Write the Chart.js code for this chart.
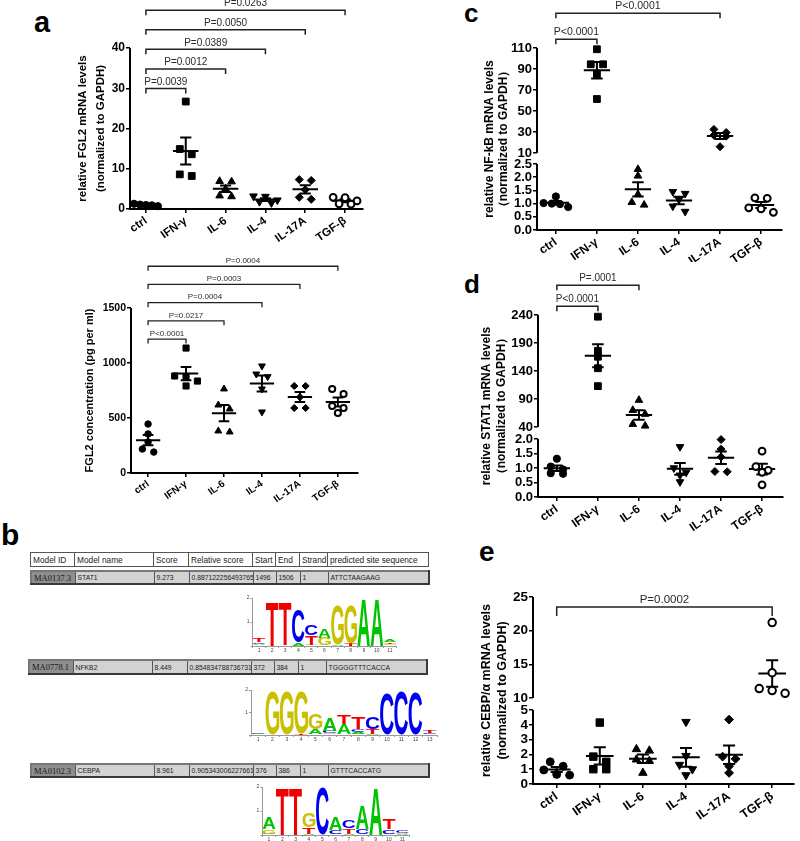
<!DOCTYPE html>
<html lang="en">
<head>
<meta charset="UTF-8">
<title>FGL2, NF-kB, STAT1 and CEBP/α expression</title>
<script src="https://cdn.jsdelivr.net/npm/chart.js"></script>
<style>
  body { margin: 0; background: #fff; }
  #page { position: relative; width: 800px; height: 841px; overflow: hidden; font-family: "Liberation Sans", Arial, sans-serif; }
  canvas { position: absolute; }
  .tag { position: absolute; font-weight: bold; line-height: 1; color: #000; }
  table.motif { position: absolute; border-collapse: collapse; table-layout: fixed; color: #222; }
  table.motif td { padding: 0 2px; white-space: nowrap; overflow: hidden; border: 1px solid #555; }
  table.head { background: #fff; border: 1px solid #333; font-size: 8.3px; }
  table.row { background: #d2d2d2; border: 2px solid #3a3a3a; border-top-color: #777; border-left-color: #777; font-size: 6.8px; }
  table.row td.id { background: #8e8e8e; font-family: "Liberation Serif", "Times New Roman", serif; font-size: 8.5px; color: #1a1a1a; }
</style>
</head>
<body>
<div id="page">
  <div class="tag" style="left:34px;top:8px;font-size:29px">a</div>
  <div class="tag" style="left:1px;top:520px;font-size:30px">b</div>
  <div class="tag" style="left:464px;top:0px;font-size:26px">c</div>
  <div class="tag" style="left:464px;top:271px;font-size:26px">d</div>
  <div class="tag" style="left:479px;top:538px;font-size:28px">e</div>

  <canvas id="aTop" width="310" height="245" style="left:60px;top:0px"></canvas>
  <canvas id="aBottom" width="305" height="270" style="left:60px;top:250px"></canvas>
  <canvas id="cChart" width="320" height="262" style="left:470px;top:0px"></canvas>
  <canvas id="dChart" width="320" height="270" style="left:470px;top:265px"></canvas>
  <canvas id="eChart" width="345" height="301" style="left:455px;top:540px"></canvas>

  <canvas id="logoStat1" width="160" height="62" style="left:240px;top:592px"></canvas>
  <canvas id="logoNfkb2" width="202" height="60" style="left:238px;top:684px"></canvas>
  <canvas id="logoCebpa" width="162" height="60" style="left:250px;top:781px"></canvas>
</div>

<script>
  const groups = ['ctrl', 'IFN-γ', 'IL-6', 'IL-4', 'IL-17A', 'TGF-β'];

  // a, top: FGL2 mRNA
  const fgl2Mrna = [
    [1.3, 1.1, 1.0, 0.9, 0.7],
    [26.7, 14.9, 13.6, 8.6, 8.2],
    [6.9, 6.8, 5.0, 3.3, 3.1],
    [3.2, 3.1, 2.2, 1.8, 1.5],
    [7.3, 7.1, 4.8, 2.9, 2.4],
    [2.9, 2.8, 2.0, 1.3, 1.2]
  ];
  const fgl2MrnaTicks = [0, 10, 20, 30, 40];
  const fgl2MrnaTo = [1, 2, 3, 4, 5];
  const fgl2MrnaP = ['P=0.0039', 'P=0.0012', 'P=0.0389', 'P=0.0050', 'P=0.0263'];

  // a, bottom: FGL2 protein
  const fgl2Protein = [
    [445, 355, 282, 218, 190],
    [1136, 882, 877, 836, 791],
    [764, 618, 582, 382, 373],
    [973, 900, 876, 764, 555],
    [791, 791, 690, 591, 591],
    [764, 718, 609, 591, 545]
  ];
  const fgl2ProteinTicks = [0, 500, 1000, 1500];
  const fgl2ProteinTo = [1, 2, 3, 4, 5];
  const fgl2ProteinP = ['P<0.0001', 'P=0.0217', 'P=0.0004', 'P=0.0003', 'P=0.0004'];

  // c: NF-kB mRNA
  const nfkb = [
    [1.27, 1.02, 1.0, 0.98, 0.87],
    [108.8, 94.5, 94.5, 85, 61.4],
    [2.3, 2.05, 1.35, 1.05, 0.95],
    [1.45, 1.38, 1.15, 0.9, 0.7],
    [32.5, 29.5, 27, 26, 16],
    [1.22, 1.2, 0.84, 0.8, 0.67]
  ];
  const nfkbTicksLow = [0, 0.5, 1.0, 1.5, 2.0, 2.5];
  const nfkbTicksHigh = [10, 30, 50, 70, 90, 110];
  const nfkbTo = [1, 4];
  const nfkbP = ['P<0.0001', 'P<0.0001'];

  // d: STAT1 mRNA
  const stat1 = [
    [1.32, 1.05, 0.95, 0.82, 0.8],
    [237, 176, 165.5, 145, 113],
    [88, 70, 63, 45, 42],
    [1.73, 1.0, 0.85, 0.75, 0.52],
    [1.98, 1.65, 1.38, 0.88, 0.87],
    [1.58, 1.05, 0.92, 0.85, 0.42]
  ];
  const stat1TicksLow = [0, 0.5, 1.0, 1.5, 2.0];
  const stat1TicksHigh = [40, 90, 140, 190, 240];
  const stat1To = [1, 2];
  const stat1P = ['P<0.0001', 'P=.0001'];

  // e: CEBP/α mRNA
  const cebpa = [
    [1.5, 1.2, 0.95, 0.65, 0.6],
    [4.15, 1.85, 1.5, 1.0, 1.0],
    [2.35, 2.25, 1.65, 1.55, 0.75],
    [4.2, 1.9, 1.3, 1.0, 0.6],
    [4.35, 1.85, 1.7, 1.2, 0.75],
    [21.2, 13.75, 11.4, 11.1, 10.7]
  ];
  const cebpaTicksLow = [0, 1, 2, 3, 4, 5];
  const cebpaTicksHigh = [10, 15, 20, 25];
  const cebpaTo = [5];
  const cebpaP = ['P=0.0002'];

  // b: JASPAR hits
  const motifHeader = ['Model ID', 'Model name', 'Score', 'Relative score', 'Start', 'End', 'Strand', 'predicted site sequence'];
  const stat1Row = ['MA0137.3', 'STAT1', '9.273', '0.887122256493765', '1496', '1506', '1', 'ATTCTAAGAAG'];
  const nfkb2Row = ['MA0778.1', 'NFKB2', '8.449', '0.854834788736731', '372', '384', '1', 'TGGGGTTTCACCA'];
  const cebpaRow = ['MA0102.3', 'CEBPA', '8.961', '0.905343006227661', '376', '386', '1', 'GTTTCACCATG'];

  // logos: per position, [base, bits] from bottom to top
  const stat1Logo = [
    [['G', 0.03], ['A', 0.06], ['C', 0.06], ['T', 0.13]],
    [['C', 0.02], ['T', 1.85]],
    [['A', 0.04], ['T', 1.78]],
    [['A', 0.15], ['C', 1.38]],
    [['A', 0.03], ['G', 0.03], ['T', 0.38], ['C', 0.42]],
    [['C', 0.04], ['G', 0.3], ['A', 0.38]],
    [['A', 0.08], ['G', 1.62]],
    [['T', 0.12], ['G', 1.58]],
    [['A', 1.98]],
    [['A', 1.95]],
    [['C', 0.04], ['G', 0.05], ['T', 0.06], ['A', 0.12]]
  ];
  const nfkb2Logo = [
    [['G', 0.03], ['C', 0.03], ['A', 0.04]],
    [['C', 0.03], ['G', 1.9]],
    [['G', 1.95]],
    [['T', 0.06], ['G', 1.85]],
    [['T', 0.04], ['A', 0.2], ['G', 0.7]],
    [['G', 0.08], ['C', 0.12], ['A', 0.55]],
    [['C', 0.04], ['A', 0.45], ['T', 0.4]],
    [['G', 0.05], ['A', 0.1], ['C', 0.12], ['T', 0.5]],
    [['A', 0.05], ['T', 0.2], ['C', 0.55]],
    [['C', 1.85]],
    [['C', 1.95]],
    [['C', 1.9]],
    [['A', 0.04], ['C', 0.05], ['T', 0.12]]
  ];
  const cebpaLogo = [
    [['C', 0.05], ['G', 0.18], ['A', 0.5]],
    [['T', 1.95]],
    [['T', 1.95]],
    [['A', 0.05], ['T', 0.28], ['G', 0.6]],
    [['G', 0.03], ['C', 1.95]],
    [['G', 0.06], ['C', 0.14], ['A', 0.55]],
    [['A', 0.05], ['T', 0.22], ['C', 0.3]],
    [['C', 0.25], ['A', 0.95]],
    [['A', 1.95]],
    [['G', 0.05], ['C', 0.18], ['T', 0.45]],
    [['A', 0.05], ['G', 0.04], ['C', 0.12]]
  ];

  Chart.defaults.font.family = '"Liberation Sans", Arial, Helvetica, sans-serif';
  Chart.defaults.color = '#000';

  const markers = [
    { pointStyle: 'circle', radius: 3.6, fill: '#000', border: 1 },
    { pointStyle: 'rect', radius: 4.8, fill: '#000', border: 1 },
    { pointStyle: 'triangle', radius: 4.4, fill: '#000', border: 1 },
    { pointStyle: 'triangle', rotation: 180, radius: 4.4, fill: '#000', border: 1 },
    { pointStyle: 'rectRot', radius: 4, fill: '#000', border: 1 },
    { pointStyle: 'circle', radius: 3.4, fill: '#fff', border: 2 }
  ];
  const baseColors = { A: '#00c400', C: '#0000f0', G: '#c8c000', T: '#f00000' };

  const mean = a => a.reduce((s, v) => s + v, 0) / a.length;
  const sem = a => {
    const m = mean(a);
    return Math.sqrt(a.reduce((s, v) => s + (v - m) ** 2, 0) / (a.length - 1) / a.length);
  };

  // column scatter: values closer than thr share a row, rows are centred on the group
  function spread(values, thr) {
    const sorted = values.slice().sort((a, b) => b - a);
    const out = [];
    let row = [];
    const flush = () => {
      const n = row.length;
      const step = n > 1 ? Math.min(0.3, 0.6 / (n - 1)) : 0;
      row.forEach((v, k) => out.push({ dx: (k - (n - 1) / 2) * step, y: v }));
      row = [];
    };
    sorted.forEach(v => {
      if (row.length && row[0] - v > thr) flush();
      row.push(v);
    });
    flush();
    return out;
  }

  // axis segments (leaving the break open) and significance brackets
  const figurePlugin = {
    id: 'figure',
    afterDatasetsDraw(chart, args, opts) {
      if (!opts || !opts.to) return;
      const ctx = chart.ctx;
      const area = chart.chartArea;
      ctx.save();
      ctx.strokeStyle = '#000';
      ctx.lineWidth = 2;
      Object.values(chart.scales).forEach(s => {
        if (s.axis !== 'y' || !s.options.ticks.display) return;
        const t = s.ticks;
        ctx.beginPath();
        ctx.moveTo(area.left, s.getPixelForValue(t[0].value) + (t[0].value === 0 ? 1 : 0));
        ctx.lineTo(area.left, s.getPixelForValue(t[t.length - 1].value));
        ctx.stroke();
      });

      const xs = chart.scales.x;
      const tops = groups.map(() => Infinity);
      chart.data.datasets.forEach((ds, i) => {
        if (!ds.isPoints) return;
        chart.getDatasetMeta(i).data.forEach(pt => { tops[ds.group] = Math.min(tops[ds.group], pt.y); });
      });
      ctx.strokeStyle = '#222';
      ctx.lineWidth = opts.lw;
      ctx.fillStyle = '#2a2a2a';
      ctx.font = opts.font + 'px "Liberation Sans", Arial, sans-serif';
      ctx.textAlign = 'center';
      ctx.textBaseline = 'bottom';
      let prev = Infinity;
      opts.to.forEach((to, i) => {
        const x0 = xs.getPixelForValue(0);
        const x1 = xs.getPixelForValue(to);
        const y = Math.min(Math.min(...tops.slice(0, to + 1)) - opts.gap, prev - opts.step);
        prev = y;
        ctx.beginPath();
        ctx.moveTo(x0, y + opts.leg);
        ctx.lineTo(x0, y);
        ctx.lineTo(x1, y);
        ctx.lineTo(x1, y + opts.leg);
        ctx.stroke();
        ctx.fillText(opts.labels[i], (x0 + x1) / 2, y - 1.5);
      });
      ctx.restore();
    }
  };

  function scatterPanel(id, values, to, labels, L) {
    const segs = L.segs;
    const segOf = v => {
      for (let i = 0; i < segs.length; i++) if (v <= segs[i].max) return i;
      return segs.length - 1;
    };
    const datasets = [];
    values.forEach((vals, g) => {
      const m = markers[g];
      segs.forEach((seg, si) => {
        const own = vals.filter(v => segOf(v) === si);
        if (!own.length) return;
        const thr = 5.5 * (seg.max - seg.min) / seg.px;
        datasets.push({
          isPoints: true,
          group: g,
          yAxisID: 'y' + si,
          data: spread(own, thr).map(p => ({ x: g + p.dx, y: p.y })),
          pointStyle: m.pointStyle,
          rotation: m.rotation || 0,
          pointRadius: m.radius * L.mk,
          backgroundColor: m.fill,
          borderColor: '#000',
          borderWidth: m.border,
          clip: false
        });
      });
      const mu = mean(vals), se = sem(vals), w = 0.32, c = 0.14;
      const gap = () => ({ x: g, y: null });
      datasets.push({
        yAxisID: 'y' + segOf(mu),
        data: [
          { x: g - w, y: mu }, { x: g + w, y: mu }, gap(),
          { x: g - c, y: mu + se }, { x: g + c, y: mu + se }, gap(),
          { x: g - c, y: mu - se }, { x: g + c, y: mu - se }, gap(),
          { x: g, y: mu + se }, { x: g, y: mu - se }
        ],
        showLine: true,
        spanGaps: false,
        borderColor: '#000',
        borderWidth: 2,
        pointRadius: 0,
        clip: false
      });
    });

    const scales = {
      x: {
        type: 'linear',
        min: L.xMin,
        max: L.xMax,
        afterBuildTicks: s => { s.ticks = groups.map((_, i) => ({ value: i })); },
        afterFit: s => { s.height = L.xH; },
        ticks: {
          autoSkip: false, minRotation: 35, maxRotation: 35, padding: 1,
          callback: v => groups[v],
          font: { size: L.xFont, weight: 'bold' }
        },
        grid: { display: true, drawOnChartArea: false, tickLength: 4, lineWidth: 1.5, color: '#000' },
        border: { display: true, width: 2, color: '#000' }
      }
    };
    segs.forEach((seg, si) => {
      scales['y' + si] = {
        type: 'linear',
        position: 'left',
        stack: 'v',
        stackWeight: seg.px,
        min: seg.min,
        max: seg.max,
        afterBuildTicks: s => { s.ticks = seg.ticks.map(v => ({ value: v })); },
        afterFit: s => { s.width = L.yW; },
        ticks: {
          autoSkip: false,
          padding: 1,
          callback: v => seg.dec ? v.toFixed(seg.dec) : String(v),
          font: { size: L.yFont, weight: 'bold' }
        },
        grid: { drawOnChartArea: false, tickLength: 4, lineWidth: 1.5, color: '#000' },
        border: { display: false }
      };
    });
    // title on its own box so it is centred over the whole (broken) axis
    scales.yt = {
      type: 'linear',
      position: 'left',
      display: true,
      ticks: { display: false },
      grid: { display: false },
      border: { display: false },
      afterFit: s => { s.width = L.titleW; },
      title: {
        display: true,
        text: L.title,
        font: { size: L.titleFont, weight: 'bold', lineHeight: L.titleLh },
        padding: { top: L.titlePad, bottom: 0 }
      }
    };

    new Chart(document.getElementById(id), {
      type: 'scatter',
      data: { datasets },
      options: {
        responsive: false,
        animation: false,
        events: [],
        layout: { padding: { top: L.padTop, right: L.padRight, left: 0, bottom: 0 } },
        plugins: {
          legend: { display: false },
          tooltip: { enabled: false },
          figure: { to, labels, gap: L.gap, step: L.step, leg: L.leg, font: L.pFont, lw: L.blw }
        },
        scales
      },
      plugins: [figurePlugin]
    });
  }

  scatterPanel('aTop', fgl2Mrna, fgl2MrnaTo, fgl2MrnaP, {
    segs: [{ ticks: fgl2MrnaTicks, min: 0, max: 40, px: 161 }],
    padTop: 48, padRight: 7, xH: 36, yW: 20, titleW: 50, titlePad: 14,
    xMin: -0.4, xMax: 5.45, xFont: 11.5, yFont: 12, mk: 1,
    title: ['relative FGL2 mRNA levels', '(normalized to GAPDH)'], titleFont: 11.5, titleLh: 1.55,
    gap: 13, step: 19.6, leg: 5, pFont: 10, blw: 1.5
  });

  scatterPanel('aBottom', fgl2Protein, fgl2ProteinTo, fgl2ProteinP, {
    segs: [{ ticks: fgl2ProteinTicks, min: 0, max: 1500, px: 165 }],
    padTop: 58, padRight: 7, xH: 47, yW: 31, titleW: 40, titlePad: 21,
    xMin: -0.45, xMax: 5.53, xFont: 10, yFont: 10.5, mk: 0.9,
    title: 'FGL2 concentration (pg per ml)', titleFont: 11, titleLh: 1.6,
    gap: 9, step: 18.2, leg: 4.5, pFont: 8, blw: 1.3
  });

  scatterPanel('cChart', nfkb, nfkbTo, nfkbP, {
    segs: [
      { ticks: nfkbTicksLow, min: 0, max: 2.689, px: 71, dec: 1 },
      { ticks: nfkbTicksHigh, min: 4.29, max: 110, px: 111 }
    ],
    padTop: 48, padRight: 8, xH: 32, yW: 27, titleW: 40, titlePad: 12.5,
    xMin: -0.46, xMax: 5.51, xFont: 12, yFont: 13, mk: 1,
    title: ['relative NF-kB mRNA levels', '（normalized to GAPDH）'], titleFont: 12, titleLh: 1.2,
    gap: 10, step: 26, leg: 5, pFont: 10.5, blw: 1.5
  });

  scatterPanel('dChart', stat1, stat1To, stat1P, {
    segs: [
      { ticks: stat1TicksLow, min: 0, max: 2.207, px: 64, dec: 1 },
      { ticks: stat1TicksHigh, min: 29.3, max: 240, px: 118 }
    ],
    padTop: 50, padRight: 7, xH: 38, yW: 28, titleW: 40, titlePad: 9,
    xMin: -0.46, xMax: 5.51, xFont: 12, yFont: 13, mk: 1,
    title: ['relative STAT1 mRNA levels', '（normalized to GAPDH）'], titleFont: 12, titleLh: 1.25,
    gap: 10.5, step: 21, leg: 5, pFont: 10, blw: 1.5
  });

  scatterPanel('eChart', cebpa, cebpaTo, cebpaP, {
    segs: [
      { ticks: cebpaTicksLow, min: 0, max: 5.405, px: 80 },
      { ticks: cebpaTicksHigh, min: 9.11, max: 25, px: 107 }
    ],
    padTop: 57, padRight: 0, xH: 57, yW: 23, titleW: 55, titlePad: 23,
    xMin: -0.55, xMax: 5.5, xFont: 12.5, yFont: 13.5, mk: 1.1,
    title: ['relative CEBP/α mRNA levels', '(normalized to GAPDH)'], titleFont: 12.5, titleLh: 1.3,
    gap: 15.5, step: 20, leg: 9, pFont: 11.5, blw: 1.5
  });

  // sequence logos: stacked bars, each filled with its letter
  const logoPlugin = {
    id: 'logo',
    afterDatasetsDraw(chart) {
      const ctx = chart.ctx;
      ctx.save();
      ctx.font = 'bold 100px "Liberation Sans", Arial, sans-serif';
      ctx.textAlign = 'left';
      ctx.textBaseline = 'alphabetic';
      chart.data.datasets.forEach((ds, k) => {
        chart.getDatasetMeta(k).data.forEach((bar, i) => {
          const letter = ds.letters[i];
          const h = bar.base - bar.y;
          if (!letter || h < 0.4) return;
          const m = ctx.measureText(letter);
          const gw = m.actualBoundingBoxLeft + m.actualBoundingBoxRight;
          const gh = m.actualBoundingBoxAscent + m.actualBoundingBoxDescent;
          ctx.save();
          ctx.translate(bar.x - bar.width / 2, bar.y);
          ctx.scale(bar.width / gw, h / gh);
          ctx.fillStyle = baseColors[letter];
          ctx.fillText(letter, m.actualBoundingBoxLeft, m.actualBoundingBoxAscent);
          ctx.restore();
        });
      });
      ctx.restore();
    }
  };

  function logoChart(id, positions, L) {
    const layers = Math.max(...positions.map(p => p.length));
    const datasets = [];
    for (let k = 0; k < layers; k++) {
      datasets.push({
        data: positions.map(p => p[k] ? p[k][1] : 0),
        letters: positions.map(p => p[k] ? p[k][0] : ''),
        backgroundColor: 'rgba(0,0,0,0)',
        borderWidth: 0,
        categoryPercentage: 1,
        barPercentage: 0.96
      });
    }
    new Chart(document.getElementById(id), {
      type: 'bar',
      data: { labels: positions.map((p, i) => String(i + 1)), datasets },
      options: {
        responsive: false,
        animation: false,
        events: [],
        layout: { padding: { top: L.padTop, right: L.padRight, left: 0, bottom: 0 } },
        plugins: { legend: { display: false }, tooltip: { enabled: false } },
        scales: {
          x: {
            stacked: true,
            afterFit: s => { s.height = L.xH; },
            ticks: { font: { size: 5 }, color: '#444', padding: 0, maxRotation: 0, autoSkip: false },
            grid: { display: true, drawOnChartArea: false, tickLength: 2, color: '#999' },
            border: { color: '#999', width: 1 }
          },
          y: {
            stacked: true,
            min: 0,
            max: 2,
            afterFit: s => { s.width = L.yW; },
            ticks: { stepSize: 1, font: { size: 5 }, color: '#444', padding: 1, callback: v => v === 0 ? '' : v },
            grid: { display: true, drawOnChartArea: false, tickLength: 2, color: '#999' },
            border: { color: '#999', width: 1 }
          }
        }
      },
      plugins: [logoPlugin]
    });
  }

  logoChart('logoStat1', stat1Logo, { padTop: 6, padRight: 3.5, xH: 8, yW: 12.5 });
  logoChart('logoNfkb2', nfkb2Logo, { padTop: 6, padRight: 3, xH: 9, yW: 13 });
  logoChart('logoCebpa', cebpaLogo, { padTop: 6, padRight: 3, xH: 6, yW: 12.3 });

  // motif hit table rows
  const colW = [44, 79, 35, 64, 23, 24, 28, 101];
  const page = document.getElementById('page');
  function motifTable(cells, left, top, h, cls) {
    const t = document.createElement('table');
    t.className = 'motif ' + cls;
    t.style.left = left + 'px';
    t.style.top = top + 'px';
    t.style.width = colW.reduce((s, w) => s + w, 0) + 'px';
    const cg = document.createElement('colgroup');
    colW.forEach(w => {
      const c = document.createElement('col');
      c.style.width = w + 'px';
      cg.appendChild(c);
    });
    t.appendChild(cg);
    const tr = t.insertRow();
    cells.forEach((txt, i) => {
      const td = tr.insertCell();
      td.textContent = txt;
      td.style.height = h + 'px';
      if (i === 0 && cls === 'row') td.className = 'id';
    });
    page.appendChild(t);
  }
  motifTable(motifHeader, 30, 552, 13, 'head');
  motifTable(stat1Row, 30, 570, 11, 'row');
  motifTable(nfkb2Row, 28, 659, 12, 'row');
  motifTable(cebpaRow, 30, 763, 11, 'row');
</script>
</body>
</html>
